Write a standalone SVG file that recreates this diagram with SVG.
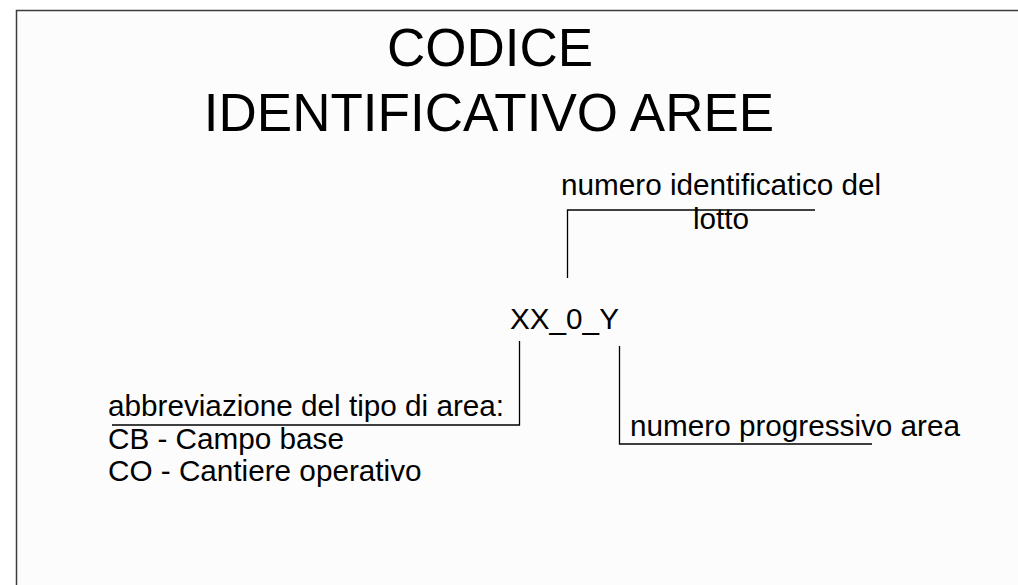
<svg xmlns="http://www.w3.org/2000/svg" width="1018" height="585" viewBox="0 0 1018 585">
<style>
.t{font-family:"Liberation Sans",Arial,sans-serif;fill:#000}
.title{font-size:53px}
.lbl{font-size:29.7px}
.c{fill:none;stroke:#000;stroke-width:1.3}
</style>
<rect x="0" y="0" width="1018" height="585" fill="#ffffff"/>
<rect id="frame" x="16.5" y="10.5" width="1010" height="590" fill="#fcfcfc" stroke="#3c3c3c" stroke-width="1.5"/>
<g id="title">
<text class="t title" x="490" y="66" text-anchor="middle">CODICE</text>
<text class="t title" x="489" y="130.5" text-anchor="middle">IDENTIFICATIVO AREE</text>
</g>
<g id="code">
<text class="t lbl" x="510" y="329">XX_0_Y</text>
</g>
<g id="lotto">
<text class="t lbl" x="561" y="195">numero identificatico del</text>
<text class="t lbl" x="693" y="229">lotto</text>
</g>
<g id="tipo">
<text class="t lbl" x="108" y="415.5">abbreviazione del tipo di area:</text>
<text class="t lbl" x="108" y="449">CB - Campo base</text>
<text class="t lbl" x="108" y="481">CO - Cantiere operativo</text>
</g>
<g id="progressivo">
<text class="t lbl" x="630" y="435.5">numero progressivo area</text>
</g>
<g id="connectors">
<polyline class="c" points="567.5,278 567.5,210 815,210"/>
<polyline class="c" points="519.5,341 519.5,425 112,425"/>
<polyline class="c" points="619.5,346 619.5,444 872,444"/>
</g>
</svg>
